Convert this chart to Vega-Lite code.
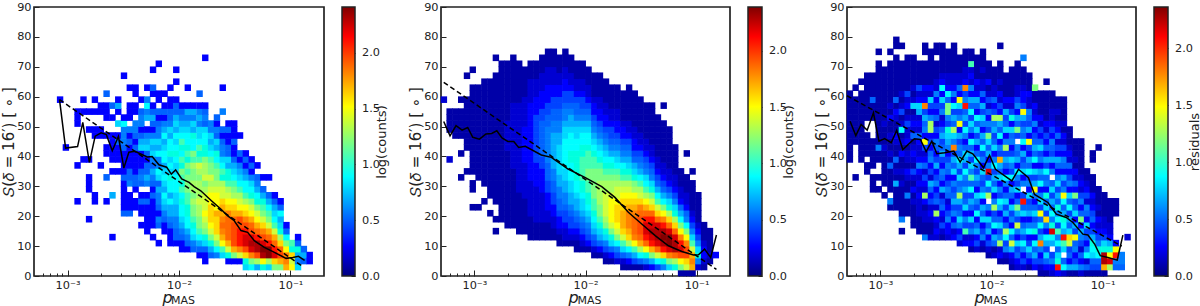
{"$schema":"https://vega.github.io/schema/vega-lite/v6.json","padding":{"left":0,"top":0,"right":0,"bottom":0},"autosize":"pad","background":"white","bounds":"flush","spacing":18,"config":{"font":"DejaVu Sans","view":{"stroke":"#222","strokeWidth":1.7},"axis":{"grid":false,"domain":false,"tickColor":"#222","labelColor":"#222","titleColor":"#222","labelFontSize":11.3,"zindex":1,"labelOverlap":false,"labelBound":false}},
"datasets":{
"h1":[
{"p":0.000857,"s":[59],"v":[0.3]},
{"p":0.000966,"s":[43],"v":[0.3]},
{"p":0.00123,"s":[25,37,51,53,55],"v":[0.3,0.3,0.3,0.3,0.3]},
{"p":0.00139,"s":[39,55,59],"v":[0.3,0.3,0.3]},
{"p":0.00156,"s":[19,29,31,33,39,49,55],"v":[0.3,0.3,0.3,0.3,0.3,0.3,0.3]},
{"p":0.00176,"s":[25,27,47,49,55,59],"v":[0.3,0.3,0.3,0.3,0.3,0.3]},
{"p":0.00199,"s":[37,47,49,55,57],"v":[0.3,0.3,0.3,0.3,0.3]},
{"p":0.00224,"s":[25,33,41,43,47,53,55,57,61],"v":[0.3,0.5,0.3,0.3,0.3,0.3,0.3,0.3,0.5]},
{"p":0.00253,"s":[13,27,35,39,41,43,45,47,53,57],"v":[0.3,0.7,0.3,0.3,0.3,0.3,0.3,0.3,0.3,0.5]},
{"p":0.00285,"s":[35,39,41,43,45,47,51,55,57,59],"v":[0.3,0.3,0.3,0.3,0.5,0.3,0.8,0.3,0.7,0.3]},
{"p":0.00321,"s":[21,23,25,27,29,31,33,35,37,39,41,43,45,47,49,51,53,67],"v":[0.5,0.3,0.3,0.3,0.3,0.3,0.5,0.3,0.3,0.3,0.3,0.5,0.6,0.6,0.6,0.9,0.3,0.3]},
{"p":0.00362,"s":[21,23,25,27,31,33,35,37,39,41,43,45,47,49,53,55,57,63],"v":[0.5,0.3,0.3,0.3,0.6,0.5,0.5,0.3,0.3,0.3,0.3,0.5,0.3,0.6,0.3,0.3,0.3,0.3]},
{"p":0.00408,"s":[23,25,29,31,33,35,37,39,41,43,45,47,49,51,55,57,61,63],"v":[0.3,0.3,0.3,0.5,0.5,0.3,0.3,0.3,0.3,0.5,0.3,0.5,0.6,0.6,0.3,0.3,0.3,0.3]},
{"p":0.0046,"s":[17,21,23,25,27,31,33,35,37,39,41,43,45,47,49,51,53,55,59],"v":[0.3,0.3,0.3,0.5,0.3,0.5,0.6,0.5,0.3,0.3,0.3,0.8,0.7,0.5,0.3,0.6,0.6,0.5,0.3]},
{"p":0.00519,"s":[15,17,19,21,23,25,27,31,33,35,37,39,41,43,45,47,49,53,55,57,59,63],"v":[0.3,0.3,0.3,0.3,0.3,0.5,0.3,0.6,0.7,0.5,0.5,0.3,0.5,0.8,0.7,0.6,0.3,0.7,0.6,0.9,0.6,0.3]},
{"p":0.00585,"s":[13,17,19,21,23,25,27,29,31,33,35,37,39,41,43,45,47,49,51,53,55,57,61,63,69],"v":[0.3,0.3,0.3,0.3,0.3,0.3,0.5,0.3,0.5,0.6,0.7,0.5,0.6,0.8,0.7,0.8,0.6,0.3,0.5,0.7,0.5,0.3,0.3,0.5,0.3]},
{"p":0.00659,"s":[11,17,19,21,23,25,27,29,31,33,35,37,39,41,43,45,47,49,51,53,55,59,61,71],"v":[0.3,0.5,0.6,0.3,0.5,0.6,0.6,0.7,0.5,0.8,0.9,0.6,0.6,0.9,0.7,0.8,0.6,0.6,0.5,0.3,0.5,0.3,0.3,0.3]},
{"p":0.00743,"s":[15,17,19,21,23,25,27,29,31,33,35,37,39,41,43,45,47,49,51,53,55,57,61],"v":[0.3,0.3,0.5,0.6,0.7,0.8,0.9,0.7,0.8,0.9,0.8,0.7,0.9,0.9,0.8,0.7,0.9,0.7,0.6,0.3,0.5,0.3,0.3]},
{"p":0.00838,"s":[11,13,15,17,19,21,23,25,27,29,31,33,35,37,39,41,43,45,47,49,51,53,55,57,59,63],"v":[0.3,0.3,0.3,0.5,0.6,0.7,0.7,0.9,0.7,0.9,0.9,1,0.8,0.9,0.8,1,0.9,0.9,0.7,0.8,0.6,0.5,0.5,0.3,0.3,0.3]},
{"p":0.00945,"s":[11,13,15,17,19,21,23,25,27,29,31,33,35,37,39,41,43,45,47,49,51,53,55,57,59,65,69],"v":[0.3,0.5,0.5,0.6,0.6,0.7,0.7,0.8,0.8,0.9,0.9,0.9,0.8,0.8,0.9,1,0.9,0.8,0.9,0.7,0.8,0.7,0.5,0.5,0.3,0.3,0.3]},
{"p":0.01065,"s":[9,11,13,15,17,19,21,23,25,27,29,31,33,35,37,39,41,43,45,47,49,51,53,55,57],"v":[0.3,0.3,0.5,0.6,0.7,0.8,0.9,0.9,1,0.9,1.1,1,1.1,1.2,1,1.1,0.9,1,1.1,0.9,0.8,0.7,0.6,0.5,0.3]},
{"p":0.012,"s":[9,11,13,15,17,19,21,23,25,27,29,31,33,35,37,39,41,43,45,47,49,51,53,55,57,63],"v":[0.3,0.5,0.6,0.7,0.9,0.9,1,1,1.1,1.1,1.2,1.2,1.2,1.1,1.2,1,1.1,1,0.9,0.9,0.8,0.7,0.6,0.7,0.3,0.3]},
{"p":0.0135,"s":[9,11,13,15,17,19,21,23,25,27,29,31,33,35,37,39,41,43,45,47,49,51,53,55,57],"v":[0.5,0.6,0.8,0.9,1,1.1,1.2,1.2,1.3,1.2,1.3,1.3,1.2,1.2,1.3,1.1,1.2,0.9,0.9,1,0.7,0.8,0.6,0.7,0.3]},
{"p":0.0153,"s":[7,9,11,13,15,17,19,21,23,25,27,29,31,33,35,37,39,41,43,45,47,49,51,53,55,57,61],"v":[0.3,0.5,0.7,0.9,1.1,1.2,1.2,1.3,1.3,1.4,1.3,1.3,1.3,1.2,1.3,1.4,1.1,1,1.1,0.9,0.8,0.8,0.6,0.7,0.6,0.3,0.5]},
{"p":0.0172,"s":[5,7,9,11,13,15,17,19,21,23,25,27,29,31,33,35,37,39,41,43,45,47,49,51,53,55,57,73],"v":[0.3,0.3,0.5,0.8,1,1.2,1.3,1.4,1.5,1.4,1.4,1.4,1.3,1.2,1.4,1.3,1.3,1.2,1,1,0.9,0.9,0.8,0.5,0.6,0.5,0.3,0.3]},
{"p":0.0194,"s":[7,9,11,13,15,17,19,21,23,25,27,29,31,33,35,37,39,41,43,45,47,49,51],"v":[0.5,0.7,1,1.2,1.4,1.5,1.6,1.6,1.6,1.5,1.5,1.4,1.3,1.4,1.2,1.2,1.1,0.9,0.8,0.7,0.8,0.6,0.6]},
{"p":0.0219,"s":[7,9,11,13,15,17,19,21,23,25,27,29,31,33,35,37,39,41,43,45,47,49,51,53],"v":[0.6,0.9,1.2,1.4,1.6,1.6,1.6,1.7,1.5,1.5,1.5,1.4,1.3,1.2,1.2,1.1,0.9,1,0.7,0.8,0.5,0.6,0.3,0.5]},
{"p":0.0247,"s":[7,9,11,13,15,17,19,21,23,25,27,29,31,33,35,37,39,41,43,45,47,49,55,63],"v":[0.8,1.1,1.5,1.7,1.8,1.9,1.8,1.7,1.7,1.6,1.4,1.4,1.3,1,1.1,0.9,0.8,0.6,0.6,0.5,0.3,0.5,0.6,0.3]},
{"p":0.0278,"s":[5,7,9,11,13,15,17,19,21,23,25,27,29,31,33,35,37,39,41,43,45,47,49,51],"v":[0.3,1,1.4,1.7,1.9,1.9,1.9,1.9,1.8,1.6,1.5,1.4,1.3,1.1,1,1,0.7,0.8,0.5,0.5,0.3,0.3,0.5,0.3]},
{"p":0.0313,"s":[5,7,9,11,13,15,17,19,21,23,25,27,29,31,33,35,37,39,41,43,45,47,49,51],"v":[0.3,1.2,1.7,2,2,2,2,1.9,1.7,1.6,1.5,1.3,1.2,1.1,0.9,0.8,0.7,0.5,0.3,0.3,0.5,0.3,0.3,0.3]},
{"p":0.0353,"s":[5,7,9,11,13,15,17,19,21,23,25,27,29,31,33,35,37,39,41,47],"v":[0.3,1.4,1.8,2.1,2.1,2.1,2,2,1.7,1.5,1.4,1.3,1.1,0.9,0.8,0.7,0.6,0.3,0.5,0.3]},
{"p":0.0398,"s":[3,5,7,9,11,13,15,17,19,21,23,25,27,29,31,33,35,37,39,41],"v":[0.8,1,1.6,2,2.2,2.2,2.1,2,1.8,1.6,1.5,1.3,1.1,0.9,0.9,0.7,0.6,0.3,0.5,0.3]},
{"p":0.0449,"s":[3,5,7,9,11,13,15,17,19,21,23,25,27,29,31,33,35,37,39],"v":[0.9,1.2,1.8,2.2,2.3,2.2,2,1.9,1.7,1.5,1.4,1.2,1,0.9,0.8,0.6,0.3,0.5,0.3]},
{"p":0.0506,"s":[3,5,7,9,11,13,15,17,19,21,23,25,27,29,31,33,37],"v":[0.7,1.3,2,2.3,2.3,2.1,1.9,1.7,1.5,1.4,1.2,1,0.9,0.7,0.6,0.5,0.3]},
{"p":0.057,"s":[3,5,7,9,11,13,15,17,19,21,23,25,27,29,33],"v":[1,1.5,2.3,2.4,2.2,2,1.8,1.6,1.4,1.2,1.1,1,0.7,0.5,0.3]},
{"p":0.0643,"s":[3,5,7,9,11,13,15,17,19,21,23,25,27,33],"v":[0.8,1.3,2.4,2.4,2.1,1.9,1.7,1.4,1.2,1.1,0.9,0.7,0.5,0.3]},
{"p":0.0725,"s":[3,5,7,9,11,13,15,17,19,21,23,25,27],"v":[1.2,1.6,2.2,2.1,1.9,1.7,1.4,1.1,0.9,0.8,0.7,0.5,0.3]},
{"p":0.0817,"s":[3,5,7,9,11,13,15,17,19,21,23,25],"v":[1.2,1.7,2,1.9,1.6,1.3,1,0.8,0.7,0.9,0.5,0.3]},
{"p":0.0921,"s":[3,5,7,9,11,13,15,17],"v":[1.7,1.8,1.8,1.5,1.2,0.9,0.5,0.3]},
{"p":0.1038,"s":[3,5,7,9,11],"v":[1.5,1.4,1.6,1,1.1]},
{"p":0.117,"s":[3,5,7,9,11,13],"v":[0.8,0.6,0.7,1,0.5,0.3]},
{"p":0.132,"s":[5,7,9],"v":[0.5,0.7,0.5]},
{"p":0.149,"s":[5,7],"v":[0.3,0.3]}
],
"l1":[{"p":0.000847,"s":59},{"p":0.00096,"s":42.8},{"p":0.00123,"s":43.3},{"p":0.00137,"s":51.4},{"p":0.00157,"s":38},{"p":0.00177,"s":46.8},{"p":0.002,"s":47.9},{"p":0.00223,"s":47.3},{"p":0.00252,"s":41.9},{"p":0.00286,"s":46.7},{"p":0.0032,"s":36.1},{"p":0.00355,"s":41.4},{"p":0.00402,"s":41.7},{"p":0.00519,"s":39.8},{"p":0.00575,"s":40},{"p":0.0066,"s":37.2},{"p":0.00775,"s":36.4},{"p":0.00853,"s":34.1},{"p":0.00933,"s":35.5},{"p":0.01057,"s":32.5},{"p":0.0123,"s":31.3},{"p":0.01365,"s":29.9},{"p":0.01567,"s":28.5},{"p":0.01954,"s":25.2},{"p":0.0237,"s":22.4},{"p":0.0272,"s":20.2},{"p":0.0313,"s":18.5},{"p":0.036,"s":15.2},{"p":0.0413,"s":14.6},{"p":0.0474,"s":11.8},{"p":0.0583,"s":9.6},{"p":0.0718,"s":7.9},{"p":0.0914,"s":5.9},{"p":0.105,"s":6.2},{"p":0.118,"s":6.6},{"p":0.134,"s":5.2}],
"d1":[{"p":0.000847,"s":59},{"p":0.129,"s":3.2}],
"h2":[
{"p":0.000531,"s":[59],"v":[0.2]},
{"p":0.000598,"s":[39,49,51,53,55],"v":[0.2,0.1,0.1,0.1,0.1]},
{"p":0.000674,"s":[47,49,51,53,55],"v":[0.1,0.1,0.1,0.1,0.1]},
{"p":0.00076,"s":[33,41,47,49,51,53,55,59],"v":[0.1,0.1,0.1,0.1,0.1,0.1,0.1,0.1]},
{"p":0.000857,"s":[35,43,45,47,49,51,53,55,57,59,67],"v":[0.1,0.1,0.1,0.1,0.1,0.1,0.1,0.1,0.1,0.1,0.1]},
{"p":0.000966,"s":[23,29,31,35,37,39,41,43,45,47,49,51,53,55,57,59,61,63,69],"v":[0.1,0.1,0.1,0.1,0.1,0.1,0.1,0.1,0.1,0.1,0.1,0.1,0.1,0.1,0.1,0.1,0.1,0.1,0.1]},
{"p":0.00109,"s":[23,33,35,37,39,41,43,45,47,49,51,53,55,57,59,61,63],"v":[0.1,0.1,0.1,0.1,0.1,0.1,0.1,0.1,0.1,0.1,0.1,0.1,0.1,0.1,0.1,0.1,0.1]},
{"p":0.00123,"s":[25,31,33,35,37,39,41,43,45,47,49,51,53,55,57,59,61,63,65],"v":[0.1,0.1,0.1,0.1,0.1,0.1,0.1,0.1,0.1,0.1,0.1,0.1,0.1,0.1,0.1,0.1,0.1,0.1,0.1]},
{"p":0.00139,"s":[21,27,29,31,33,35,37,39,41,43,45,47,49,51,53,55,57,59,61,63,65],"v":[0.1,0.1,0.1,0.1,0.1,0.1,0.1,0.1,0.1,0.1,0.1,0.1,0.1,0.1,0.1,0.1,0.1,0.1,0.1,0.1,0.1]},
{"p":0.00156,"s":[15,19,25,27,29,31,33,35,37,39,41,43,45,47,49,51,53,55,57,59,61,63,65,67,73],"v":[0.1,0.1,0.1,0.1,0.1,0.1,0.1,0.1,0.1,0.1,0.1,0.1,0.1,0.1,0.1,0.1,0.1,0.1,0.1,0.1,0.1,0.1,0.1,0.1,0.1]},
{"p":0.00176,"s":[19,21,23,25,27,29,31,33,35,37,39,41,43,45,47,49,51,53,55,57,59,61,63,65,67,69,71],"v":[0.1,0.1,0.1,0.1,0.1,0.1,0.1,0.1,0.1,0.1,0.1,0.1,0.1,0.1,0.1,0.1,0.1,0.1,0.1,0.1,0.1,0.1,0.1,0.1,0.1,0.1,0.1]},
{"p":0.00199,"s":[17,19,21,23,25,27,29,31,33,35,37,39,41,43,45,47,49,51,53,55,57,59,61,63,65,67,69,71],"v":[0.1,0.1,0.1,0.1,0.1,0.1,0.1,0.1,0.1,0.1,0.1,0.1,0.1,0.2,0.2,0.2,0.2,0.2,0.1,0.1,0.1,0.1,0.1,0.1,0.1,0.1,0.1,0.1]},
{"p":0.00224,"s":[17,19,21,23,25,27,29,31,33,35,37,39,41,43,45,47,49,51,53,55,57,59,61,63,65,67,69,71,73],"v":[0.1,0.1,0.1,0.1,0.1,0.1,0.1,0.1,0.1,0.1,0.2,0.2,0.2,0.2,0.2,0.2,0.2,0.2,0.2,0.2,0.2,0.1,0.1,0.1,0.1,0.1,0.1,0.1,0.1]},
{"p":0.00253,"s":[15,17,19,21,23,25,27,29,31,33,35,37,39,41,43,45,47,49,51,53,55,57,59,61,63,65,67,69,71],"v":[0.1,0.1,0.1,0.1,0.1,0.1,0.1,0.2,0.2,0.2,0.2,0.2,0.2,0.2,0.2,0.2,0.2,0.2,0.2,0.2,0.2,0.2,0.1,0.1,0.1,0.1,0.1,0.1,0.1]},
{"p":0.00285,"s":[15,17,19,21,23,25,27,29,31,33,35,37,39,41,43,45,47,49,51,53,55,57,59,61,63,65,67,69],"v":[0.1,0.1,0.1,0.1,0.1,0.1,0.2,0.2,0.2,0.2,0.2,0.2,0.3,0.3,0.3,0.3,0.3,0.3,0.2,0.2,0.2,0.2,0.2,0.1,0.1,0.1,0.1,0.1]},
{"p":0.00321,"s":[13,15,17,19,21,23,25,27,29,31,33,35,37,39,41,43,45,47,49,51,53,55,57,59,61,63,65,67,69,71],"v":[0.1,0.1,0.1,0.1,0.2,0.2,0.2,0.2,0.2,0.2,0.3,0.3,0.3,0.3,0.3,0.3,0.3,0.3,0.3,0.3,0.3,0.3,0.3,0.2,0.2,0.2,0.2,0.1,0.1,0.1]},
{"p":0.00362,"s":[13,15,17,19,21,23,25,27,29,31,33,35,37,39,41,43,45,47,49,51,53,55,57,59,61,63,65,67,69,71],"v":[0.1,0.1,0.1,0.2,0.2,0.2,0.2,0.2,0.2,0.3,0.3,0.3,0.3,0.4,0.4,0.4,0.4,0.4,0.4,0.4,0.4,0.3,0.3,0.3,0.2,0.2,0.2,0.1,0.1,0.1]},
{"p":0.00408,"s":[13,15,17,19,21,23,25,27,29,31,33,35,37,39,41,43,45,47,49,51,53,55,57,59,61,63,65,67,69,71,73],"v":[0.1,0.1,0.1,0.2,0.2,0.2,0.2,0.2,0.3,0.3,0.3,0.3,0.4,0.4,0.5,0.5,0.5,0.5,0.5,0.5,0.4,0.4,0.3,0.3,0.3,0.2,0.2,0.2,0.1,0.1,0.1]},
{"p":0.0046,"s":[13,15,17,19,21,23,25,27,29,31,33,35,37,39,41,43,45,47,49,51,53,55,57,59,61,63,65,67,69,71,73,75],"v":[0.1,0.1,0.1,0.2,0.2,0.3,0.3,0.3,0.4,0.4,0.5,0.5,0.5,0.6,0.6,0.6,0.6,0.6,0.6,0.5,0.5,0.4,0.4,0.3,0.3,0.3,0.2,0.2,0.2,0.1,0.1,0.1]},
{"p":0.00519,"s":[13,15,17,19,21,23,25,27,29,31,33,35,37,39,41,43,45,47,49,51,53,55,57,59,61,63,65,67,69,71,73,75],"v":[0.1,0.1,0.2,0.2,0.3,0.3,0.4,0.4,0.5,0.5,0.6,0.6,0.7,0.7,0.7,0.7,0.7,0.7,0.6,0.6,0.5,0.5,0.4,0.4,0.3,0.3,0.2,0.2,0.2,0.1,0.1,0.1]},
{"p":0.00585,"s":[11,13,15,17,19,21,23,25,27,29,31,33,35,37,39,41,43,45,47,49,51,53,55,57,59,61,63,65,67,69,71,73],"v":[0.1,0.1,0.2,0.3,0.3,0.4,0.5,0.5,0.6,0.6,0.7,0.7,0.8,0.8,0.8,0.8,0.8,0.7,0.7,0.6,0.6,0.5,0.5,0.4,0.4,0.3,0.3,0.2,0.2,0.1,0.1,0.1]},
{"p":0.00659,"s":[11,13,15,17,19,21,23,25,27,29,31,33,35,37,39,41,43,45,47,49,51,53,55,57,59,61,63,65,67,69,71,73,75],"v":[0.1,0.2,0.2,0.3,0.4,0.4,0.5,0.6,0.6,0.7,0.7,0.8,0.8,0.9,0.9,0.9,0.9,0.9,0.8,0.8,0.7,0.6,0.6,0.5,0.4,0.4,0.3,0.3,0.2,0.2,0.1,0.1,0.1]},
{"p":0.00743,"s":[11,13,15,17,19,21,23,25,27,29,31,33,35,37,39,41,43,45,47,49,51,53,55,57,59,61,63,65,67,69,71,73],"v":[0.1,0.2,0.3,0.4,0.4,0.5,0.6,0.7,0.7,0.8,0.8,0.9,0.9,0.9,1,1,0.9,0.9,0.9,0.8,0.7,0.7,0.6,0.5,0.4,0.4,0.3,0.2,0.2,0.1,0.1,0.1]},
{"p":0.00838,"s":[9,11,13,15,17,19,21,23,25,27,29,31,33,35,37,39,41,43,45,47,49,51,53,55,57,59,61,63,65,67,69,71],"v":[0.1,0.1,0.2,0.3,0.4,0.5,0.6,0.7,0.7,0.8,0.9,0.9,1,1,1,1,1,0.9,0.9,0.8,0.8,0.7,0.6,0.5,0.5,0.4,0.3,0.2,0.2,0.1,0.1,0.1]},
{"p":0.00945,"s":[9,11,13,15,17,19,21,23,25,27,29,31,33,35,37,39,41,43,45,47,49,51,53,55,57,59,61,63,65,67,69,71],"v":[0.1,0.2,0.3,0.4,0.5,0.6,0.7,0.8,0.8,0.9,1,1,1.1,1.1,1.1,1.1,1,1,0.9,0.9,0.8,0.7,0.6,0.5,0.4,0.4,0.3,0.2,0.2,0.1,0.1,0.1]},
{"p":0.01065,"s":[9,11,13,15,17,19,21,23,25,27,29,31,33,35,37,39,41,43,45,47,49,51,53,55,57,59,61,63,65,67,69],"v":[0.1,0.3,0.4,0.5,0.6,0.7,0.8,0.9,1,1,1.1,1.1,1.2,1.2,1.1,1.1,1.1,1,0.9,0.9,0.8,0.7,0.6,0.5,0.4,0.3,0.2,0.2,0.1,0.1,0.1]},
{"p":0.012,"s":[7,9,11,13,15,17,19,21,23,25,27,29,31,33,35,37,39,41,43,45,47,49,51,53,55,57,59,61,63,65,67],"v":[0.1,0.2,0.4,0.5,0.7,0.8,0.9,1,1.1,1.1,1.2,1.2,1.2,1.2,1.2,1.1,1.1,1,0.9,0.8,0.7,0.6,0.5,0.4,0.3,0.3,0.2,0.1,0.1,0.1,0.1]},
{"p":0.0135,"s":[7,9,11,13,15,17,19,21,23,25,27,29,31,33,35,37,39,41,43,45,47,49,51,53,55,57,59,61,63,65,67],"v":[0.1,0.3,0.5,0.7,0.8,1,1.1,1.2,1.2,1.3,1.3,1.3,1.3,1.2,1.2,1.1,1,0.9,0.8,0.7,0.6,0.5,0.4,0.3,0.3,0.2,0.2,0.1,0.1,0.1,0.1]},
{"p":0.0153,"s":[5,7,9,11,13,15,17,19,21,23,25,27,29,31,33,35,37,39,41,43,45,47,49,51,53,55,57,59,61,63,65],"v":[0.1,0.2,0.4,0.6,0.8,1,1.2,1.3,1.4,1.4,1.4,1.4,1.3,1.3,1.2,1.1,1,0.9,0.8,0.7,0.6,0.5,0.4,0.3,0.3,0.2,0.2,0.1,0.1,0.1,0.1]},
{"p":0.0172,"s":[5,7,9,11,13,15,17,19,21,23,25,27,29,31,33,35,37,39,41,43,45,47,49,51,53,55,57,59,61,63],"v":[0.1,0.3,0.5,0.8,1,1.2,1.4,1.5,1.5,1.5,1.5,1.4,1.3,1.3,1.2,1.1,1,0.9,0.7,0.6,0.5,0.4,0.4,0.3,0.2,0.2,0.1,0.1,0.1,0.1]},
{"p":0.0194,"s":[5,7,9,11,13,15,17,19,21,23,25,27,29,31,33,35,37,39,41,43,45,47,49,51,53,55,57,59,61,63],"v":[0.2,0.4,0.6,0.9,1.2,1.4,1.5,1.6,1.6,1.6,1.5,1.4,1.4,1.3,1.2,1.1,0.9,0.8,0.7,0.6,0.5,0.4,0.3,0.3,0.2,0.2,0.1,0.1,0.1,0.1]},
{"p":0.0219,"s":[3,5,7,9,11,13,15,17,19,21,23,25,27,29,31,33,35,37,39,41,43,45,47,49,51,53,55,57,59,61],"v":[0.1,0.2,0.5,0.8,1.1,1.4,1.6,1.7,1.7,1.7,1.6,1.6,1.5,1.4,1.3,1.1,1,0.9,0.7,0.6,0.5,0.4,0.3,0.3,0.2,0.1,0.1,0.1,0.1,0.1]},
{"p":0.0247,"s":[3,5,7,9,11,13,15,17,19,21,23,25,27,29,31,33,35,37,39,41,43,45,47,49,51,53,55,57,59,61,63],"v":[0.1,0.3,0.6,0.9,1.3,1.6,1.7,1.8,1.8,1.8,1.7,1.6,1.5,1.4,1.3,1.1,1,0.8,0.7,0.6,0.5,0.4,0.3,0.2,0.2,0.1,0.1,0.1,0.1,0.1,0.1]},
{"p":0.0278,"s":[3,5,7,9,11,13,15,17,19,21,23,25,27,29,31,33,35,37,39,41,43,45,47,49,51,53,55,57,59,61],"v":[0.1,0.4,0.7,1.1,1.5,1.8,1.9,1.9,1.9,1.8,1.7,1.6,1.5,1.3,1.2,1,0.8,0.7,0.5,0.4,0.3,0.3,0.2,0.2,0.1,0.1,0.1,0.1,0.1,0.1]},
{"p":0.0313,"s":[3,5,7,9,11,13,15,17,19,21,23,25,27,29,31,33,35,37,39,41,43,45,47,49,51,53,55,57,59],"v":[0.1,0.5,0.9,1.3,1.7,1.9,2,2,2,1.9,1.8,1.6,1.4,1.3,1.1,0.9,0.7,0.6,0.5,0.4,0.3,0.2,0.2,0.1,0.1,0.1,0.1,0.1,0.1]},
{"p":0.0353,"s":[3,5,7,9,11,13,15,17,19,21,23,25,27,29,31,33,35,37,39,41,43,45,47,49,51,53,55,57],"v":[0.2,0.6,1,1.5,1.9,2.1,2.2,2.2,2.1,1.9,1.7,1.5,1.3,1.1,0.9,0.8,0.6,0.5,0.4,0.3,0.2,0.2,0.1,0.1,0.1,0.1,0.1,0.1]},
{"p":0.0398,"s":[3,5,7,9,11,13,15,17,19,21,23,25,27,29,31,33,35,37,39,41,43,45,47,49,51,53,55,57],"v":[0.3,0.7,1.2,1.7,2.1,2.2,2.3,2.2,2.1,1.9,1.6,1.4,1.2,1,0.8,0.6,0.5,0.4,0.3,0.2,0.2,0.1,0.1,0.1,0.1,0.1,0.1,0.1]},
{"p":0.0449,"s":[3,5,7,9,11,13,15,17,19,21,23,25,27,29,31,33,35,37,39,41,43,45,47,49,51,53],"v":[0.4,0.9,1.4,1.9,2.2,2.3,2.3,2.2,1.9,1.6,1.4,1.1,0.9,0.7,0.5,0.4,0.3,0.2,0.2,0.1,0.1,0.1,0.1,0.1,0.1,0.1]},
{"p":0.0506,"s":[3,5,7,9,11,13,15,17,19,21,23,25,27,29,31,33,35,37,39,41,43,45,47,49,51,57],"v":[0.6,1,1.6,2.1,2.3,2.4,2.3,2.1,1.8,1.5,1.2,0.9,0.7,0.5,0.4,0.3,0.2,0.2,0.1,0.1,0.1,0.1,0.1,0.1,0.1,0.1]},
{"p":0.057,"s":[3,5,7,9,11,13,15,17,19,21,23,25,27,29,31,33,35,37,39,41,43,45,47,49],"v":[0.8,1.2,1.8,2.2,2.4,2.4,2.2,1.9,1.6,1.3,1,0.8,0.6,0.4,0.3,0.2,0.2,0.1,0.1,0.1,0.1,0.1,0.1,0.1]},
{"p":0.0643,"s":[3,5,7,9,11,13,15,17,19,21,23,25,27,29,31,33,35,37,39,41,43],"v":[1,1.3,1.9,2.3,2.3,2.2,1.9,1.6,1.3,1,0.8,0.6,0.4,0.3,0.2,0.2,0.1,0.1,0.1,0.1,0.1]},
{"p":0.0725,"s":[1,3,5,7,9,11,13,15,17,19,21,23,25,27,29,31,33,35],"v":[0.1,1.2,1.5,2,2.2,2.1,1.8,1.5,1.2,0.9,0.7,0.5,0.3,0.2,0.2,0.1,0.1,0.1]},
{"p":0.0817,"s":[1,3,5,7,9,11,13,15,17,19,21,23,25,27,29,31,33,41],"v":[0.1,1.4,1.6,2,2,1.8,1.5,1.2,0.9,0.6,0.5,0.3,0.2,0.2,0.1,0.1,0.1,0.1]},
{"p":0.0921,"s":[1,3,5,7,9,11,13,15,17,19,21,23,25,27,29,31,35],"v":[0.1,1.7,1.8,1.7,1.4,1.1,0.8,0.6,0.4,0.3,0.2,0.1,0.1,0.1,0.1,0.1,0.1]},
{"p":0.1038,"s":[3,5,7,9,11,13,15,17,19,21,23,25,27],"v":[0.2,0.6,1,0.8,0.6,0.4,0.3,0.2,0.1,0.1,0.1,0.1,0.1]},
{"p":0.117,"s":[3,5,7,9,11,13,15,17],"v":[0.1,0.2,0.3,0.3,0.2,0.1,0.1,0.1]},
{"p":0.132,"s":[5,7,9,11,13,15],"v":[0.1,0.2,0.1,0.1,0.1,0.1]},
{"p":0.149,"s":[7],"v":[0.3]}
],
"l2":[{"p":0.000529,"s":51.7},{"p":0.000603,"s":46.9},{"p":0.000683,"s":50.3},{"p":0.000774,"s":48.8},{"p":0.00087,"s":49.7},{"p":0.000966,"s":46.4},{"p":0.00111,"s":45.8},{"p":0.00127,"s":47.5},{"p":0.00143,"s":47.7},{"p":0.00159,"s":48.6},{"p":0.00177,"s":46.2},{"p":0.002,"s":45},{"p":0.00226,"s":45},{"p":0.0025,"s":43},{"p":0.00287,"s":43.4},{"p":0.004,"s":40.5},{"p":0.00493,"s":39.7},{"p":0.00697,"s":35.8},{"p":0.00986,"s":33},{"p":0.014,"s":29.9},{"p":0.0184,"s":26.3},{"p":0.0243,"s":21.3},{"p":0.0321,"s":17.4},{"p":0.0424,"s":13.5},{"p":0.0558,"s":10.1},{"p":0.0736,"s":8.2},{"p":0.094,"s":7},{"p":0.104,"s":7.1},{"p":0.118,"s":9},{"p":0.134,"s":6.2},{"p":0.151,"s":13.7}],
"d2":[{"p":0.000529,"s":64.8},{"p":0.151,"s":2.2}],
"h3":[
{"p":0.000531,"s":[39,41,43,45,47,49,51,53,55,57,59,61],"v":[0.1,0.1,0.1,0.1,0.1,0.1,0.1,0.1,0.1,0.1,0.1,0.1]},
{"p":0.000598,"s":[33,45,47,49,51,53,55,57,59,63],"v":[0.1,0.1,0.1,0.1,0.1,0.1,0.1,0.1,0.1,0.1]},
{"p":0.000674,"s":[39,41,43,45,47,49,51,53,55,57,59,61,65],"v":[0.1,0.1,0.1,0.1,0.1,0.1,0.1,0.1,0.1,0.1,0.1,0.1,0.1]},
{"p":0.00076,"s":[35,37,41,43,45,47,53,55,57,59,61,63,65,67],"v":[0.1,0.1,0.1,0.1,0.1,0.1,0.1,0.1,0.1,0.1,0.1,0.1,0.1,0.1]},
{"p":0.000857,"s":[29,31,33,37,39,41,43,45,53,55,57,59,61,63,65,67],"v":[0.1,0.1,0.1,0.1,0.1,0.1,0.1,0.1,0.1,0.1,0.1,0.5,0.1,0.1,0.1,0.1]},
{"p":0.000966,"s":[29,33,39,41,43,45,47,49,51,53,55,57,59,61,63,65,67,69,71,75],"v":[0.1,0.1,0.1,0.1,0.6,0.1,0.1,0.1,0.1,0.1,0.1,0.1,0.1,0.1,0.1,0.1,0.1,0.1,0.1,0.1]},
{"p":0.00109,"s":[27,31,33,35,37,39,41,43,45,47,49,51,53,55,57,59,61,63,65,67,69],"v":[0.1,0.1,0.1,0.1,0.1,0.1,0.1,0.2,0.1,0.1,0.1,0.2,0.1,0.1,0.1,0.1,0.1,0.1,0.1,0.1,0.1]},
{"p":0.00123,"s":[23,25,29,31,33,35,37,39,41,43,45,47,49,51,53,55,57,59,61,63,65,67,69,71,75],"v":[0.1,0.6,0.1,0.1,0.1,0.1,0.5,0.1,0.2,0.1,0.1,0.2,0.1,0.1,0.3,0.1,0.2,0.1,0.1,0.1,0.1,0.1,0.1,0.1,0.1]},
{"p":0.00139,"s":[23,25,27,29,31,33,35,37,39,41,43,45,47,49,51,53,55,57,59,61,63,65,67,69,71,73,77,79],"v":[0.1,0.1,0.1,0.1,0.7,0.1,0.2,0.1,0.5,0.1,0.1,0.2,0.3,0.1,0.1,0.2,0.3,0.1,0.5,0.1,0.1,0.1,0.1,0.1,0.1,0.1,0.1,0.1]},
{"p":0.00156,"s":[15,19,21,23,25,27,29,31,33,35,37,39,41,43,45,47,49,51,53,55,57,59,61,63,65,67,69,71,77],"v":[0.1,0.6,0.1,0.1,0.1,0.1,0.1,0.2,0.1,0.2,0.1,0.1,0.3,0.1,0.2,0.1,0.9,0.2,0.1,0.4,0.2,0.1,0.2,0.1,0.1,0.1,0.1,0.1,0.1]},
{"p":0.00176,"s":[21,23,25,27,29,31,33,35,37,39,41,43,45,47,49,51,53,55,57,59,61,63,65,67,69,71,73],"v":[0.1,0.1,0.1,0.6,0.1,0.1,0.2,0.3,0.1,0.2,0.2,0.1,0.3,0.2,0.2,0.4,0.2,0.1,0.3,0.2,0.4,0.1,0.1,0.1,0.1,0.1,0.1]},
{"p":0.00199,"s":[17,19,21,23,25,27,29,31,33,35,37,39,41,43,45,47,49,51,53,55,57,59,61,63,65,67,69,71,73],"v":[0.1,0.1,0.1,0.1,0.2,0.1,0.3,0.1,0.2,0.4,0.1,0.2,0.3,0.2,0.1,0.5,0.2,0.3,0.2,0.1,0.8,0.2,0.1,0.2,0.1,0.1,0.1,0.1,0.1]},
{"p":0.00224,"s":[15,17,19,21,23,25,27,29,31,33,35,37,39,41,43,45,47,49,51,53,55,57,59,61,63,65,67,69,71],"v":[0.1,0.1,0.1,0.2,0.2,0.2,0.3,0.2,0.3,0.2,0.3,0.6,0.3,0.2,0.2,0.3,0.5,0.2,0.3,0.2,0.7,0.8,0.3,0.2,0.4,0.1,0.1,0.1,0.1]},
{"p":0.00253,"s":[13,15,17,19,21,23,25,27,29,31,33,35,37,39,41,43,45,47,49,51,53,55,57,59,61,63,65,67,69,71,75,77],"v":[0.6,0.1,0.1,0.2,0.2,0.1,0.3,1.3,0.2,0.3,0.4,0.2,0.5,0.3,0.2,0.4,1.5,0.3,0.6,0.5,0.7,0.4,1.8,0.3,0.2,0.3,0.1,0.1,0.1,0.1,0.1,0.1]},
{"p":0.00285,"s":[13,15,17,19,21,23,25,27,29,31,33,35,37,39,41,43,45,47,49,51,53,55,57,59,61,63,65,67,69,71,73,75],"v":[0.2,0.1,0.1,0.2,0.3,0.2,0.4,0.3,0.5,0.7,0.2,0.4,0.3,0.6,0.5,0.3,0.4,0.3,1.3,1.3,0.6,0.3,0.4,0.8,0.2,0.3,0.1,0.1,0.1,0.1,0.1,0.1]},
{"p":0.00321,"s":[13,15,17,19,21,23,25,27,29,31,33,35,37,39,41,43,45,47,49,51,53,55,57,59,61,63,65,67,69,71,75,77],"v":[0.2,0.3,0.2,0.3,1.3,0.2,0.5,0.4,0.3,0.6,0.4,0.3,0.7,0.4,0.3,0.5,0.6,0.3,0.4,0.2,0.5,0.3,0.4,0.3,0.6,0.2,0.2,0.1,0.1,0.1,0.1,0.1]},
{"p":0.00362,"s":[13,15,17,19,21,23,25,27,29,31,33,35,37,39,41,43,45,47,49,51,53,55,57,59,61,63,65,67,69,71,73,75,77],"v":[0.1,0.2,0.4,0.2,0.3,0.5,0.4,0.2,0.7,0.3,0.5,0.6,0.3,0.4,0.7,0.5,0.4,0.7,0.5,0.3,0.2,0.6,0.4,0.8,0.3,0.9,0.3,0.2,0.1,0.1,0.1,0.1,0.1]},
{"p":0.00408,"s":[13,15,17,19,21,23,25,27,29,31,33,35,37,39,41,43,45,47,49,51,53,55,57,59,61,63,65,67,69,71,73,75],"v":[0.2,0.3,0.3,0.6,0.4,0.3,0.2,0.5,0.6,0.4,0.3,0.5,0.6,0.4,0.3,0.6,0.7,0.8,1,0.4,0.6,1.2,1.2,0.5,0.9,0.3,0.2,0.2,0.1,0.1,0.1,0.1]},
{"p":0.0046,"s":[13,15,17,19,21,23,25,27,29,31,33,35,37,39,41,43,45,47,49,51,53,55,57,59,61,63,65,67,69,71,73,75,77],"v":[0.3,0.2,0.5,0.3,0.6,0.4,0.7,0.5,0.4,0.6,0.3,0.8,0.5,0.7,0.4,1.8,0.6,0.8,1.3,0.5,0.7,0.4,0.9,0.3,0.6,0.3,0.2,0.2,0.1,0.1,0.1,0.1,0.1]},
{"p":0.00519,"s":[11,13,15,17,19,21,23,25,27,29,31,33,35,37,39,41,43,45,47,49,51,53,55,57,59,61,63,65,67,69,71,73],"v":[0.2,0.4,0.3,0.6,0.8,0.5,0.4,0.7,1.3,0.6,0.5,0.8,0.4,0.7,0.9,0.5,0.6,0.4,0.7,0.3,1.5,0.6,0.4,0.8,1.5,0.3,0.5,0.2,0.2,0.1,0.1,0.1]},
{"p":0.00585,"s":[11,13,15,17,19,21,23,25,27,29,31,33,35,37,39,41,43,45,47,49,51,53,55,57,59,61,63,65,67,69,71,73,75],"v":[0.3,0.2,1.1,0.4,0.6,0.3,0.8,0.5,0.4,0.7,0.5,0.6,0.9,0.4,0.7,0.8,0.5,0.3,0.6,0.9,0.4,0.7,0.5,2.1,0.6,0.4,1.8,0.3,0.2,0.2,0.1,0.1,0.1]},
{"p":0.00659,"s":[9,11,13,15,17,19,21,23,25,27,29,31,33,35,37,39,41,43,45,47,49,51,53,55,57,59,61,63,65,67,69,71,73,75],"v":[0.1,0.3,0.2,0.6,0.4,0.8,0.3,0.5,0.7,0.4,0.9,0.5,1.1,0.6,0.8,0.4,0.7,0.5,0.9,0.3,0.6,0.8,0.4,0.9,0.5,0.7,0.3,0.6,0.2,0.3,0.2,1.1,0.1,0.1]},
{"p":0.00743,"s":[9,11,13,15,17,19,21,23,25,27,29,31,33,35,37,39,41,43,45,47,49,51,53,55,57,59,61,63,65,67,69,71,73],"v":[0.2,0.4,0.3,0.7,0.5,0.3,0.9,0.4,0.6,0.8,0.3,0.5,0.7,0.4,0.6,0.9,0.5,0.3,0.7,0.4,0.8,0.5,0.9,0.3,0.5,0.7,0.3,0.2,0.3,0.1,0.1,0.1,0.1]},
{"p":0.00838,"s":[9,11,13,15,17,19,21,23,25,27,29,31,33,35,37,39,41,43,45,47,49,51,53,55,57,59,61,63,65,67,69,71,73,75],"v":[0.1,0.2,0.6,0.4,0.3,0.8,0.5,0.7,0.3,0.9,0.6,0.4,0.5,0.8,0.3,0.6,0.4,0.9,0.5,0.7,0.3,0.6,0.8,0.4,0.7,0.3,0.5,0.2,0.2,0.1,0.2,0.1,0.1,0.1]},
{"p":0.00945,"s":[7,9,11,13,15,17,19,21,23,27,29,31,33,35,37,39,41,43,45,47,49,51,53,55,57,59,61,63,65,67,69,71],"v":[0.1,0.2,0.4,0.3,0.7,0.5,0.8,0.3,0.6,1.3,0.5,0.9,0.4,2.2,0.6,0.3,0.7,0.5,0.8,1.2,0.4,0.6,0.3,0.5,0.2,0.4,0.2,0.1,0.3,0.1,0.1,0.1]},
{"p":0.01065,"s":[7,9,11,13,15,17,19,21,23,25,27,29,31,33,35,37,39,41,43,45,47,49,51,53,55,57,59,61,63,65,67,69],"v":[0.2,0.1,0.5,0.7,0.3,0.9,0.5,0.4,1.3,0.6,0.3,0.8,0.5,0.7,0.4,0.9,0.6,0.3,0.8,0.5,0.4,0.7,0.6,1.3,0.4,0.3,0.5,0.2,0.2,0.1,0.1,0.1]},
{"p":0.012,"s":[5,7,9,11,13,15,17,19,21,23,25,27,29,31,33,35,37,39,41,43,45,47,49,51,53,55,57,59,61,63,65,67,69,71,77],"v":[0.1,0.3,0.2,1.3,0.6,0.4,0.8,0.5,0.3,0.7,0.9,0.4,0.6,0.3,0.8,0.5,0.7,1.7,0.4,0.6,0.3,0.9,0.5,0.7,1.3,0.3,0.4,0.2,0.3,0.1,0.2,0.1,0.1,0.1,0.1]},
{"p":0.0135,"s":[5,7,9,11,13,15,17,19,21,23,25,27,29,31,33,35,37,39,41,43,45,47,49,51,53,55,57,59,61,63,65,67],"v":[0.1,0.2,0.6,0.4,0.9,1.3,0.5,0.3,0.7,0.4,0.8,0.5,0.3,0.6,0.9,0.3,0.5,0.7,0.4,1.3,0.6,0.3,0.8,0.5,0.4,0.7,0.2,0.3,0.1,0.1,0.1,0.1]},
{"p":0.0153,"s":[3,5,7,9,11,13,15,17,19,21,23,25,27,29,31,33,35,37,39,41,43,45,47,49,51,53,55,57,59,61,63,65,67,69],"v":[0.1,0.2,0.3,0.7,1.4,0.5,0.9,0.3,0.6,0.4,0.8,0.3,0.5,0.7,0.3,0.9,0.4,0.6,0.8,0.4,0.3,0.6,0.5,0.8,0.3,1,0.4,0.2,0.3,0.1,0.1,0.1,0.1,0.1]},
{"p":0.0172,"s":[3,5,7,9,11,13,15,17,19,21,23,25,27,29,31,33,35,37,39,41,43,47,49,51,53,55,57,59,61,63,65,67,69,71],"v":[0.2,0.3,0.5,0.4,0.8,0.3,0.6,1.4,0.4,0.7,1.2,0.5,0.3,0.8,0.4,0.6,0.9,0.3,0.7,0.5,0.6,0.4,1.2,0.5,0.7,0.3,0.6,0.4,0.2,0.2,0.1,0.1,0.1,0.1]},
{"p":0.0194,"s":[3,5,7,9,11,13,15,17,19,21,23,25,27,31,33,35,37,39,41,43,45,47,49,51,53,55,57,59,61,63,65,67,69,73],"v":[0.2,0.4,0.3,0.6,0.9,0.4,0.7,0.5,0.3,0.8,0.5,2.1,0.4,0.6,0.3,0.8,0.5,0.4,0.7,0.3,0.9,0.5,0.6,0.4,0.7,1.5,0.4,0.3,0.3,0.2,0.1,0.1,0.1,0.6]},
{"p":0.0219,"s":[3,5,7,9,11,13,15,17,19,21,23,25,27,29,31,33,35,37,39,41,43,45,47,49,51,53,55,57,59,61,63,65,67],"v":[0.1,0.3,0.5,0.8,0.4,0.3,0.9,0.6,0.3,0.7,0.5,0.4,0.8,0.3,0.6,0.4,0.9,0.5,0.7,0.3,0.4,1.5,0.3,0.7,0.4,0.5,0.6,0.2,0.2,0.3,0.1,0.1,0.1]},
{"p":0.0247,"s":[3,5,7,9,11,13,15,17,19,21,23,25,27,29,31,33,35,37,39,41,43,45,47,49,51,53,55,57,59,61,63],"v":[0.3,0.4,0.7,0.5,0.9,0.3,1,0.6,0.4,0.8,0.5,0.3,0.6,1.5,0.7,0.4,0.8,0.3,0.9,0.5,0.7,0.5,0.4,0.3,0.6,0.3,0.2,0.3,0.1,0.1,1.2]},
{"p":0.0278,"s":[1,3,5,7,9,11,13,15,17,19,21,23,25,27,29,31,33,35,37,39,41,43,45,47,49,51,53,55,57,59,61],"v":[0.1,0.2,0.4,0.3,0.6,1.8,0.7,0.4,0.9,0.5,1.5,0.4,0.8,0.6,0.3,0.9,0.5,0.7,0.3,0.6,0.4,0.8,0.5,0.3,0.4,0.2,0.3,0.1,0.1,0.1,0.1]},
{"p":0.0313,"s":[1,3,5,7,9,11,13,15,17,19,21,23,25,27,29,31,33,35,37,39,41,43,45,47,49,51,53,55,57,59,61,65],"v":[0.1,0.3,0.5,0.8,0.4,0.7,0.9,0.3,0.6,1.6,0.4,0.8,0.5,1,0.3,0.6,0.5,0.9,0.4,0.7,0.3,0.5,0.3,0.4,0.2,0.3,0.1,0.1,0.1,0.1,0.1,0.1]},
{"p":0.0353,"s":[1,3,5,7,11,13,15,17,19,21,23,25,27,29,31,35,37,39,41,43,45,47,49,51,53,55,57,59,61],"v":[0.2,0.3,0.6,0.4,0.7,0.9,2.2,1,0.6,0.9,0.5,0.7,0.4,0.8,0.5,0.6,0.3,0.7,0.4,0.5,0.6,0.3,0.4,0.3,0.2,0.2,0.1,0.1,0.1]},
{"p":0.0398,"s":[1,3,5,7,9,11,13,15,17,19,21,23,25,27,29,31,33,35,37,39,41,43,45,47,49,51,53,55,57,59],"v":[0.3,2.1,1,0.8,0.5,0.9,0.6,1.1,0.4,0.9,0.6,1,0.5,0.7,0.4,0.8,0.6,0.3,0.5,0.7,0.3,0.4,0.2,0.5,0.3,0.2,0.1,0.2,0.1,0.1]},
{"p":0.0449,"s":[1,3,5,9,11,13,15,17,19,21,23,25,27,29,31,33,35,37,39,41,43,45,47,49,51,53,55,57,59],"v":[0.2,0.9,0.5,0.8,1.1,2.1,0.7,0.9,1,0.7,0.5,0.9,1.5,0.6,0.4,0.7,0.3,0.5,0.6,0.3,0.4,0.2,0.3,0.1,0.2,0.1,0.1,0.1,0.1]},
{"p":0.0506,"s":[1,3,5,7,9,11,13,15,17,19,21,23,25,27,29,31,33,35,37,39,41,43,45,47,49],"v":[0.1,0.7,0.3,0.5,0.4,1.4,1.6,0.8,0.5,0.7,0.4,0.9,0.5,0.8,0.3,0.6,0.4,0.3,0.5,0.2,0.3,0.2,0.1,0.1,0.1]},
{"p":0.057,"s":[1,3,5,7,9,11,13,15,17,19,21,23,25,27,29,31,33,35,37,39,41,43,45],"v":[0.1,0.7,0.4,0.3,0.6,0.5,1.5,0.4,0.7,0.3,0.8,0.5,0.4,1.2,0.3,0.5,0.2,0.3,0.1,0.2,0.1,0.1,0.1]},
{"p":0.0643,"s":[1,3,5,7,9,11,13,15,17,19,21,23,25,27,29,31,33,35,37,39,41,43,45],"v":[0.2,0.6,0.3,0.5,0.2,0.4,0.6,0.7,0.3,1.2,0.5,0.3,0.6,0.4,0.2,0.3,0.2,0.1,0.1,0.1,0.1,0.1,0.1]},
{"p":0.0725,"s":[1,3,5,7,9,11,13,15,17,19,21,23,25,27,29,31,33,35],"v":[0.1,0.5,0.2,0.9,0.6,0.3,0.5,0.4,0.8,0.3,0.5,0.6,0.2,0.4,0.3,0.2,0.1,0.1]},
{"p":0.0817,"s":[1,3,5,7,9,11,13,15,17,19,21,23,25,27,29,31,33,39,41],"v":[0.1,0.4,0.5,0.8,0.9,1,0.7,0.4,0.3,0.5,0.4,0.3,0.2,0.3,0.1,0.1,0.1,0.1,0.1]},
{"p":0.0921,"s":[1,3,5,7,9,11,13,15,17,19,21,23,25,27,29,43],"v":[0.1,0.4,0.5,0.9,1,0.6,0.4,0.3,0.2,0.3,0.1,0.2,0.1,0.1,0.1,0.1]},
{"p":0.1038,"s":[1,3,5,7,9,11,13,15,17,19,21,23,25,27],"v":[0.1,1.7,2.3,2.3,1,0.8,0.4,0.3,0.2,0.2,0.1,0.1,0.1,0.1]},
{"p":0.117,"s":[3,5,7,9,11,13,15,17,19,21,23,25],"v":[1.3,2.2,1.5,1,0.7,0.3,0.2,0.2,0.1,0.1,0.1,0.1]},
{"p":0.132,"s":[3,5,7,9,11,21,23,25],"v":[0.5,0.6,2.1,1.5,0.3,0.1,0.1,0.1]},
{"p":0.149,"s":[3,5,7],"v":[0.5,0.6,0.6]},
{"p":0.168,"s":[13],"v":[0.2]}
],
"l3":[{"p":0.000533,"s":51.8},{"p":0.0006,"s":47},{"p":0.00067,"s":50.7},{"p":0.00076,"s":48.8},{"p":0.000865,"s":54.6},{"p":0.00097,"s":45.1},{"p":0.00109,"s":46},{"p":0.00125,"s":44.6},{"p":0.0014,"s":48.7},{"p":0.00159,"s":42.3},{"p":0.00202,"s":45.9},{"p":0.00229,"s":45.7},{"p":0.00258,"s":41.6},{"p":0.0029,"s":45.1},{"p":0.00322,"s":40.9},{"p":0.00378,"s":41.2},{"p":0.00458,"s":41.8},{"p":0.00522,"s":38.1},{"p":0.006,"s":41.8},{"p":0.00679,"s":40.9},{"p":0.00847,"s":36.2},{"p":0.0096,"s":40.4},{"p":0.01086,"s":35.7},{"p":0.01525,"s":31.8},{"p":0.0175,"s":35.7},{"p":0.0215,"s":32.9},{"p":0.0244,"s":27.3},{"p":0.0322,"s":24.6},{"p":0.0383,"s":20.7},{"p":0.0471,"s":19.6},{"p":0.054,"s":17.9},{"p":0.0665,"s":14},{"p":0.0738,"s":13.7},{"p":0.0848,"s":10.7},{"p":0.0953,"s":6.8},{"p":0.1117,"s":6.2},{"p":0.1355,"s":5.3},{"p":0.1524,"s":13.7}],
"d3":[{"p":0.0005,"s":60.3},{"p":0.149,"s":10}],
"b1":[{"a":0,"b":2.41}],"b2":[{"a":0,"b":2.39}],"b3":[{"a":0,"b":2.36}]
},
"hconcat":[
{"width":290,"height":269,"title":{"text":"MAS","orient":"bottom","fontSize":11,"fontWeight":"normal","color":"#222","dx":4,"offset":-10},"encoding":{"x":{"field":"p","type":"quantitative","scale":{"type":"log","domain":[0.0005,0.2],"nice":false},"axis":{"values":[0.0006,0.0007,0.0008,0.0009,0.001,0.002,0.003,0.004,0.005,0.006,0.007,0.008,0.009,0.01,0.02,0.03,0.04,0.05,0.06,0.07,0.08,0.09,0.1],"tickSize":{"condition":{"test":"datum.value==0.001||datum.value==0.01||datum.value==0.1","value":-6},"value":-3},"labelPadding":9,"labelExpr":"datum.value==0.001?'10⁻³':datum.value==0.01?'10⁻²':datum.value==0.1?'10⁻¹':''","title":"p","titleFontStyle":"italic","titleFontWeight":"normal","titleFontSize":16,"titleX":133,"titleY":26,"titleBaseline":"alphabetic"}},"y":{"field":"s","type":"quantitative","scale":{"domain":[0,90],"nice":false},"axis":{"values":[0,10,20,30,40,50,60,70,80,90],"tickSize":-5,"labelPadding":8,"title":"𝑆(𝛿 = 16′) [ ∘ ]","titleFontWeight":"normal","titleFontSize":15,"titlePadding":0}}},"layer":[{"data":{"name":"h1"},"transform":[{"flatten":["s","v"]}],"mark":{"type":"rect","width":6.4,"height":6.6,"opacity":1},"encoding":{"color":{"field":"v","type":"quantitative","legend":null,"scale":{"domain":[0,0.265,0.58,0.89,1.205,1.52,1.83,2.145,2.41],"range":["#00007f","#0000ff","#007fff","#00ffff","#7fff7f","#ffff00","#ff7f00","#ff0000","#7f0000"]}}}},{"data":{"name":"l1"},"mark":{"type":"line","color":"black","strokeWidth":1.5}},{"data":{"name":"d1"},"mark":{"type":"line","color":"black","strokeWidth":1.5,"strokeDash":[5,3]}}]},
{"width":13,"height":269,"view":{"stroke":null},"data":{"name":"b1"},"mark":{"type":"rect","stroke":"#222","strokeWidth":1.5,"fill":{"gradient":"linear","x1":0,"y1":1,"x2":0,"y2":0,"stops":[{"offset":0,"color":"#00007f"},{"offset":0.11,"color":"#0000ff"},{"offset":0.24,"color":"#007fff"},{"offset":0.37,"color":"#00ffff"},{"offset":0.5,"color":"#7fff7f"},{"offset":0.63,"color":"#ffff00"},{"offset":0.76,"color":"#ff7f00"},{"offset":0.89,"color":"#ff0000"},{"offset":1,"color":"#7f0000"}]}},"encoding":{"y":{"field":"a","type":"quantitative","scale":{"domain":[0,2.41],"nice":false},"axis":{"orient":"right","values":[0,0.5,1,1.5,2],"format":".1f","tickSize":-4,"labelPadding":10.5,"title":"log(counts)","titleFontWeight":"normal","titleFontSize":13,"titleAngle":270,"titleBaseline":"bottom","titlePadding":9.5}},"y2":{"field":"b"}}},
{"width":50,"height":269,"view":{"stroke":null},"data":{"values":[]},"mark":"rect","encoding":{}},
{"width":289,"height":269,"title":{"text":"MAS","orient":"bottom","fontSize":11,"fontWeight":"normal","color":"#222","dx":4,"offset":-10},"encoding":{"x":{"field":"p","type":"quantitative","scale":{"type":"log","domain":[0.0005,0.2],"nice":false},"axis":{"values":[0.0006,0.0007,0.0008,0.0009,0.001,0.002,0.003,0.004,0.005,0.006,0.007,0.008,0.009,0.01,0.02,0.03,0.04,0.05,0.06,0.07,0.08,0.09,0.1],"tickSize":{"condition":{"test":"datum.value==0.001||datum.value==0.01||datum.value==0.1","value":-6},"value":-3},"labelPadding":9,"labelExpr":"datum.value==0.001?'10⁻³':datum.value==0.01?'10⁻²':datum.value==0.1?'10⁻¹':''","title":"p","titleFontStyle":"italic","titleFontWeight":"normal","titleFontSize":16,"titleX":132,"titleY":26,"titleBaseline":"alphabetic"}},"y":{"field":"s","type":"quantitative","scale":{"domain":[0,90],"nice":false},"axis":{"values":[0,10,20,30,40,50,60,70,80,90],"tickSize":-5,"labelPadding":8,"title":"𝑆(𝛿 = 16′) [ ∘ ]","titleFontWeight":"normal","titleFontSize":15,"titlePadding":0}}},"layer":[{"data":{"name":"h2"},"transform":[{"flatten":["s","v"]}],"mark":{"type":"rect","width":6.4,"height":6.6,"opacity":1},"encoding":{"color":{"field":"v","type":"quantitative","legend":null,"scale":{"domain":[0,0.263,0.574,0.884,1.195,1.506,1.816,2.127,2.39],"range":["#00007f","#0000ff","#007fff","#00ffff","#7fff7f","#ffff00","#ff7f00","#ff0000","#7f0000"]}}}},{"data":{"name":"l2"},"mark":{"type":"line","color":"black","strokeWidth":1.5}},{"data":{"name":"d2"},"mark":{"type":"line","color":"black","strokeWidth":1.5,"strokeDash":[5,3]}}]},
{"width":14,"height":269,"view":{"stroke":null},"data":{"name":"b2"},"mark":{"type":"rect","stroke":"#222","strokeWidth":1.5,"fill":{"gradient":"linear","x1":0,"y1":1,"x2":0,"y2":0,"stops":[{"offset":0,"color":"#00007f"},{"offset":0.11,"color":"#0000ff"},{"offset":0.24,"color":"#007fff"},{"offset":0.37,"color":"#00ffff"},{"offset":0.5,"color":"#7fff7f"},{"offset":0.63,"color":"#ffff00"},{"offset":0.76,"color":"#ff7f00"},{"offset":0.89,"color":"#ff0000"},{"offset":1,"color":"#7f0000"}]}},"encoding":{"y":{"field":"a","type":"quantitative","scale":{"domain":[0,2.39],"nice":false},"axis":{"orient":"right","values":[0,0.5,1,1.5,2],"format":".1f","tickSize":-4,"labelPadding":10.5,"title":"log(counts)","titleFontWeight":"normal","titleFontSize":13,"titleAngle":270,"titleBaseline":"bottom","titlePadding":9.5}},"y2":{"field":"b"}}},
{"width":49,"height":269,"view":{"stroke":null},"data":{"values":[]},"mark":"rect","encoding":{}},
{"width":289,"height":269,"title":{"text":"MAS","orient":"bottom","fontSize":11,"fontWeight":"normal","color":"#222","dx":4,"offset":-10},"encoding":{"x":{"field":"p","type":"quantitative","scale":{"type":"log","domain":[0.0005,0.2],"nice":false},"axis":{"values":[0.0006,0.0007,0.0008,0.0009,0.001,0.002,0.003,0.004,0.005,0.006,0.007,0.008,0.009,0.01,0.02,0.03,0.04,0.05,0.06,0.07,0.08,0.09,0.1],"tickSize":{"condition":{"test":"datum.value==0.001||datum.value==0.01||datum.value==0.1","value":-6},"value":-3},"labelPadding":9,"labelExpr":"datum.value==0.001?'10⁻³':datum.value==0.01?'10⁻²':datum.value==0.1?'10⁻¹':''","title":"p","titleFontStyle":"italic","titleFontWeight":"normal","titleFontSize":16,"titleX":132,"titleY":26,"titleBaseline":"alphabetic"}},"y":{"field":"s","type":"quantitative","scale":{"domain":[0,90],"nice":false},"axis":{"values":[0,10,20,30,40,50,60,70,80,90],"tickSize":-5,"labelPadding":8,"title":"𝑆(𝛿 = 16′) [ ∘ ]","titleFontWeight":"normal","titleFontSize":15,"titlePadding":0}}},"layer":[{"data":{"name":"h3"},"transform":[{"flatten":["s","v"]}],"mark":{"type":"rect","width":6.4,"height":6.6,"opacity":1},"encoding":{"color":{"field":"v","type":"quantitative","legend":null,"scale":{"domain":[0,0.26,0.566,0.873,1.18,1.487,1.794,2.1,2.36],"range":["#00007f","#0000ff","#007fff","#00ffff","#7fff7f","#ffff00","#ff7f00","#ff0000","#7f0000"]}}}},{"data":{"name":"l3"},"mark":{"type":"line","color":"black","strokeWidth":1.5}},{"data":{"name":"d3"},"mark":{"type":"line","color":"black","strokeWidth":1.5,"strokeDash":[5,3]}}]},
{"width":14,"height":269,"view":{"stroke":null},"data":{"name":"b3"},"mark":{"type":"rect","stroke":"#222","strokeWidth":1.5,"fill":{"gradient":"linear","x1":0,"y1":1,"x2":0,"y2":0,"stops":[{"offset":0,"color":"#00007f"},{"offset":0.11,"color":"#0000ff"},{"offset":0.24,"color":"#007fff"},{"offset":0.37,"color":"#00ffff"},{"offset":0.5,"color":"#7fff7f"},{"offset":0.63,"color":"#ffff00"},{"offset":0.76,"color":"#ff7f00"},{"offset":0.89,"color":"#ff0000"},{"offset":1,"color":"#7f0000"}]}},"encoding":{"y":{"field":"a","type":"quantitative","scale":{"domain":[0,2.36],"nice":false},"axis":{"orient":"right","values":[0,0.5,1,1.5,2],"format":".1f","tickSize":-4,"labelPadding":10.5,"title":"residuals","titleFontWeight":"normal","titleFontSize":13,"titleAngle":270,"titleBaseline":"bottom","titlePadding":9.5}},"y2":{"field":"b"}}}
]}
